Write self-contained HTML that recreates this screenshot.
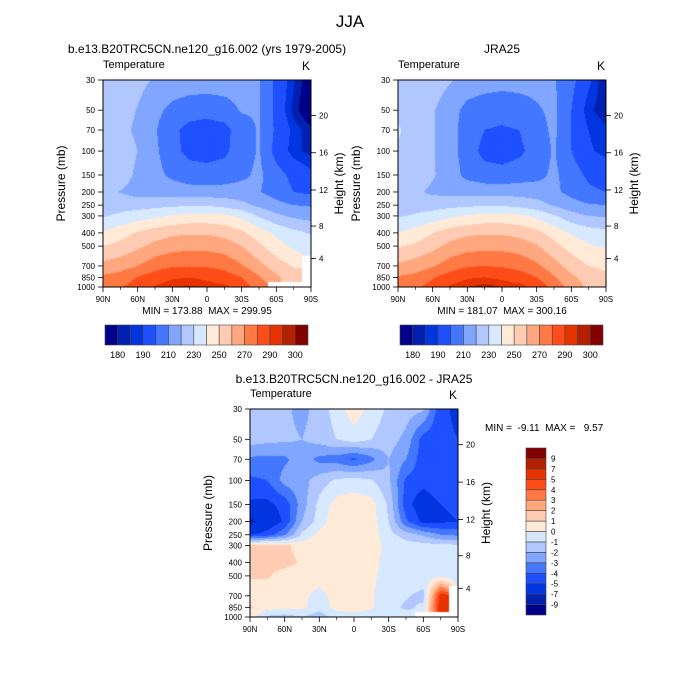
<!DOCTYPE html>
<html><head><meta charset="utf-8"><style>
html,body{margin:0;padding:0;background:#fff;}
#wrap{position:relative;width:700px;height:700px;overflow:hidden;font-family:"Liberation Sans",sans-serif;}
canvas{position:absolute;}
svg{position:absolute;left:0;top:0;}
text{white-space:pre;}
</style></head><body>
<div id="wrap">
<canvas id="c1"></canvas>
<canvas id="c2"></canvas>
<canvas id="c3"></canvas>
<svg id="s" width="700" height="700">
<text x="350" y="27" font-size="17" text-anchor="middle">JJA</text>
</svg>
</div>
<script>
const LATS=[90,75,60,45,30,15,0,-15,-30,-45,-60,-75,-90];
const PLEV=[30,50,70,100,150,200,250,300,400,500,700,850,1000];
const latTickLabels=["90N","60N","30N","0","30S","60S","90S"];
const latTicks=[90,60,30,0,-30,-60,-90];
const pTickLabels=["30","50","70","100","150","200","250","300","400","500","700","850","1000"];
const zTicks=[4,8,12,16,20];
const tLevels=[180,185,190,200,210,220,230,240,250,260,270,280,290,295,300];
const tLabelIdx=[0,2,4,6,8,10,12,14];
const dLevels=[-9,-7,-5,-4,-3,-2,-1,0,1,2,3,4,5,7,9];
const COLORS=["#000088","#0020b0","#0035e0","#1f50ff","#4477ff","#80a6ff","#b0c8ff","#d6e9ff","#ffead8","#ffcbb2","#ffa77e","#ff7945","#ff4d1a","#e63300","#b52000","#820000"];
const N=null;
const modelT=[
[226,225,223,219,217,216,216,216,215,211,197,186,174],
[227,224,219.5,213,207,204,203,205,211,211,197,183,172],
[227,223,218,211,202,197,196,197,205,211,198,188,182],
[228,225,220,212,203,197,196,198,205,211,196,187,183],
[228,225,218,213,208,205,204,205,208,212,204,197,192],
[224,219.5,216,215,215,214,214,214,214,210.5,206,200,198],
[226,226,226,227,228,229,229,227,223,218,213,210,209],
[229,232,235,238,241,243,243,242,238,229,222,218,216],
[241,246,251,255,258,259,259,257,252,245,238,233,229],
[250,253,258,263,266,267,267,265,260,252,244,238,236],
[263,266,270,276,279,279.5,279,277,271,263,255,249,N],
[272,274,280.5,285,289,290,288,285,280,271,262,255,N],
[274,279,285,291,294,296,294,292,286,275,N,N,N]];
const jraT=[
[227,226,225,221,216,215,214,214,213,211,203,192,180],
[228,225,221,214,207,204,203,205,209,212,200,186,182],
[231,226,221,214,205,200,199,200,206,212,200,190,186],
[229,226,221,214,205,197,196,198,204,211,200,191,188],
[228,226,221,215,207,204,203,205,207,212,205,198,195],
[226,222,218,217,217,216,216,216,215,212,207,202,200],
[226,226,226,227,228,229,229,227,224,219,214,211,210],
[229,231,234,238,241,243,243,242,238,231,224,220,219],
[240,244,250,255,258,259,259,257,253,246,239,235,233],
[249,252,257,263,266,267,267,265,261,253,246,241,239],
[262,265,269,275,279,280,279,277,272,264,256,250,248],
[271,273,279,285,289,290,288,285,280,271,262,256,252],
[272,278,284,291,295,297,295,293,287,277,266,258,254]];
const diffT=[
[-1.5,-1.5,-1.8,-2.3,-1.6,-0.5,0.6,-0.4,-1.2,-1.5,-1.8,-4.8,-5.2],
[-1.5,-1.7,-1.8,-2.0,-1.6,-1.0,-0.5,-1.0,-1.5,-2.3,-4.5,-4.8,-5.0],
[-3.2,-3.3,-3.2,-2.5,-3.3,-3.5,-4.2,-3.3,-2.0,-3.0,-4.6,-4.3,-4.5],
[-4.2,-4.0,-2.6,-2.4,-1.5,-0.8,-0.6,-0.9,-1.8,-4.2,-4.6,-4.1,-4.4],
[-5.2,-5.3,-4.6,-2.5,-0.7,0.4,0.6,0.4,-1.2,-4.6,-5.8,-5.0,-4.8],
[-7.5,-6.0,-4.8,-2.0,-0.5,0.7,0.7,0.5,-1.0,-3.8,-5.3,-5.2,-5.0],
[-5.0,-4.5,-3.2,-0.8,0.3,0.6,0.7,0.5,-0.6,-1.5,-2.2,-3.0,-3.2],
[1.2,1.3,1.2,0.6,0.4,0.6,0.8,0.5,-0.3,-0.5,-0.6,-0.7,-0.8],
[2.0,1.3,1.3,0.9,0.4,0.4,0.4,0.3,-0.4,-0.5,-0.5,-0.5,-0.6],
[1.1,1.1,0.6,0.5,0.4,0.3,0.2,0.1,-0.2,-0.4,-0.4,-0.3,-0.5],
[0.5,0.4,0.3,0.2,-0.3,0.4,0.2,0.1,-0.4,-0.9,-1.3,5.5,N],
[1.2,0.4,0.3,0.2,-0.5,0.3,0.3,0.1,-0.6,-1.2,-0.8,6.0,N],
[0.5,-1.2,-1.5,-1.0,-1.7,-0.5,-0.3,-0.4,-0.4,-0.5,N,N,N]];

const SVGNS="http://www.w3.org/2000/svg";
const svg=document.getElementById('s');
function el(tag,attrs,parent){const e=document.createElementNS(SVGNS,tag);for(const k in attrs)e.setAttribute(k,attrs[k]);(parent||svg).appendChild(e);return e;}
function txt(x,y,s,size,anchor,extra){const t=el('text',Object.assign({x:x,y:y,'font-size':size,'text-anchor':anchor||'start'},extra||{}));t.textContent=s;return t;}
const LP0=Math.log(30),LPR=Math.log(1000/30);
function zToP(z){const m=z*1000;if(m<=11000)return 1013.25*Math.pow(1-2.25577e-5*m,5.2559);return 226.32*Math.exp(-(m-11000)/6341.6);}

function sample(grid,lat,p){
  const a=(90-lat)/15;let ia=Math.min(11,Math.floor(a));const fa=a-ia;
  let k=0;while(k<11&&p>PLEV[k+1])k++;
  const fr=(Math.log(p)-Math.log(PLEV[k]))/(Math.log(PLEV[k+1])-Math.log(PLEV[k]));
  const nk=fr<0.5?k:k+1,na=fa<0.5?ia:ia+1;
  if(grid[nk][na]===null)return null;
  const cs=[[k,ia,(1-fr)*(1-fa)],[k,ia+1,(1-fr)*fa],[k+1,ia,fr*(1-fa)],[k+1,ia+1,fr*fa]];
  let s=0,w=0;for(const c of cs){const v=grid[c[0]][c[1]];if(v!==null){s+=v*c[2];w+=c[2];}}
  return w>0?s/w:null;
}
function colorIdx(v,levels){let i=0;while(i<levels.length&&v>=levels[i])i++;return i;}
function hex(h){return [parseInt(h.substr(1,2),16),parseInt(h.substr(3,2),16),parseInt(h.substr(5,2),16)];}
const RGB=COLORS.map(hex);

function drawField(id,grid,levels,L,T,W,H){
  const c=document.getElementById(id);c.width=W;c.height=H;c.style.left=L+'px';c.style.top=T+'px';
  const ctx=c.getContext('2d');const img=ctx.createImageData(W,H);
  for(let j=0;j<H;j++){const p=Math.exp(LP0+(j+0.5)/H*LPR);
    for(let i=0;i<W;i++){const lat=90-(i+0.5)/W*180;const v=sample(grid,lat,p);
      const o=(j*W+i)*4;let col=[255,255,255];if(v!==null)col=RGB[colorIdx(v,levels)];
      img.data[o]=col[0];img.data[o+1]=col[1];img.data[o+2]=col[2];img.data[o+3]=255;}}
  ctx.putImageData(img,0,0);
}

function drawAxes(L,T,W,H,pre){
  const g=el('g',{});
  
  
  const yP=p=>T+H*Math.log(p/30)/LPR, xL=lat=>L+W*(90-lat)/180;
  const f=el('rect',{x:L,y:T,width:W,height:H,fill:'none',stroke:'#000','stroke-width':1},g);
  
  
  PLEV.forEach((p,i)=>{const y=yP(p);
    el('line',{x1:L-5,y1:y,x2:L,y2:y,stroke:'#000','stroke-width':0.8},g);
    const t=txt(L-8,y+3,pTickLabels[i],8,'end');g.appendChild(t);
    
    });
  zTicks.forEach(z=>{const y=yP(zToP(z));
    el('line',{x1:L+W,y1:y,x2:L+W+5,y2:y,stroke:'#000','stroke-width':0.8},g);
    const t=txt(L+W+8,y+3,String(z),8,'start');g.appendChild(t);
    
    });
  latTicks.forEach((lat,i)=>{const x=xL(lat);
    el('line',{x1:x,y1:T+H,x2:x,y2:T+H+5,stroke:'#000','stroke-width':0.8},g);
    const t=txt(x,T+H+15,latTickLabels[i],8,'middle');g.appendChild(t);
    
    });
  for(let lat=75;lat>-90;lat-=15){if(lat%30===0)continue;const x=xL(lat);el('line',{x1:x,y1:T+H,x2:x,y2:T+H+3,stroke:'#000','stroke-width':0.6},g);}
  const a=txt(L,T-12,'Temperature',11,'start');
  const k=txt(L+W-1,T-10,'K',12,'end');
  const py=T+H/2,px=L-38;
  const yl=txt(px,py,'Pressure (mb)',12,'middle',{transform:'rotate(-90 '+px+' '+py+')'});
  
  const hx=L+W+32;
  const hl=txt(hx,py,'Height (km)',12,'middle',{transform:'rotate(-90 '+hx+' '+py+')'});
  
}

function hColorbar(L,T,W,H,pre){
  const bw=W/COLORS.length;
  COLORS.forEach((c,i)=>{const r=el('rect',{x:L+i*bw,y:T,width:bw,height:H,fill:c,stroke:'#444','stroke-width':0.6});
    
    });
  tLabelIdx.forEach(k=>{const t=txt(L+(k+1)*bw,T+H+13,String(tLevels[k]),9,'middle');
    
    });
}
function vColorbar(L,T,W,H){
  const bh=H/COLORS.length;
  COLORS.forEach((c,i)=>{const r=el('rect',{x:L,y:T+(COLORS.length-1-i)*bh,width:W,height:bh,fill:c,stroke:'#444','stroke-width':0.6});
    
    });
  dLevels.forEach((v,i)=>{const y=T+(COLORS.length-1-i)*bh;
    const t=txt(L+W+5,y+3,String(v),8,'start');
    
    });
}

drawField('c1',modelT,tLevels,103,80,208,207);
drawField('c2',jraT,tLevels,398,80,208,207);
drawField('c3',diffT,dLevels,250,409,208,208);
drawAxes(103,80,208,207,'model');
drawAxes(398,80,208,207,'jra25');
drawAxes(250,409,208,208,'diff');
hColorbar(105,325,203,20,'model');
hColorbar(400,325,203,20,'jra25');
vColorbar(526,448,20,167);
let t;
t=txt(207,53,'b.e13.B20TRC5CN.ne120_g16.002 (yrs 1979-2005)',12,'middle');

t=txt(502,53,'JRA25',12,'middle');

t=txt(207,314,'MIN = 173.88  MAX = 299.95',10,'middle');

t=txt(502,314,'MIN = 181.07  MAX = 300.16',10,'middle');

t=txt(354,383,'b.e13.B20TRC5CN.ne120_g16.002 - JRA25',12,'middle');

t=txt(485,431,'MIN =  -9.11  MAX =   9.57',10,'start');

</script>
</body></html>
